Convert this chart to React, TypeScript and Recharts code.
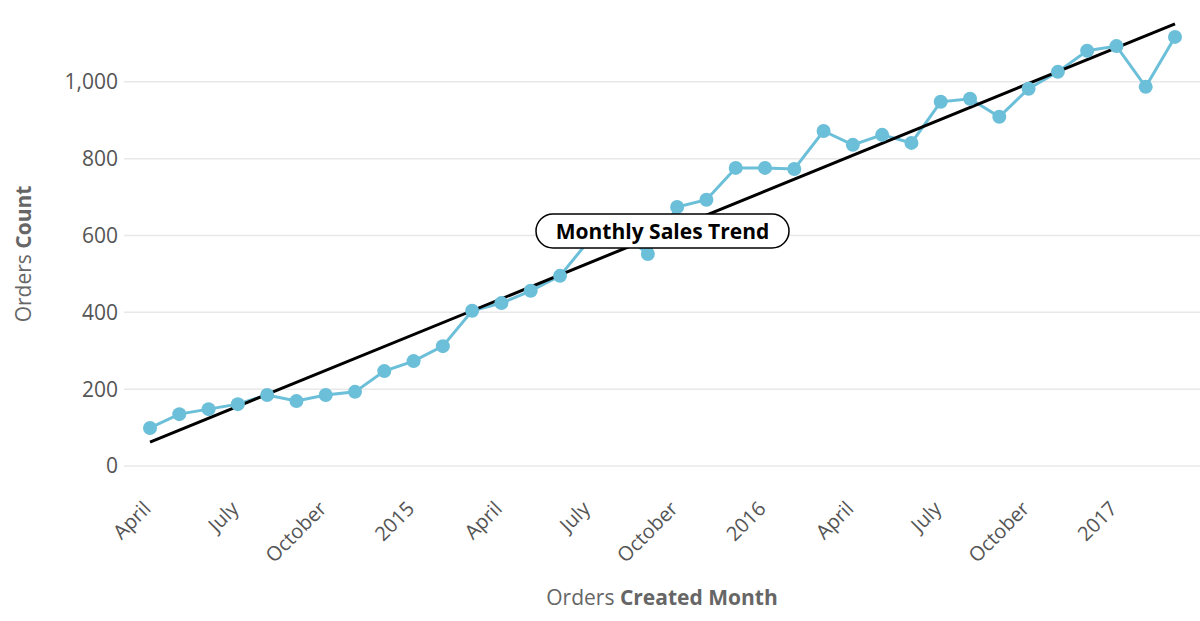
import React from "react";
import {
  LineChart,
  Line,
  XAxis,
  YAxis,
  CartesianGrid,
  ReferenceDot,
} from "recharts";

// Monthly order counts, April 2014 through March 2017
const months = [
  "2014-04", "2014-05", "2014-06", "2014-07", "2014-08", "2014-09",
  "2014-10", "2014-11", "2014-12", "2015-01", "2015-02", "2015-03",
  "2015-04", "2015-05", "2015-06", "2015-07", "2015-08", "2015-09",
  "2015-10", "2015-11", "2015-12", "2016-01", "2016-02", "2016-03",
  "2016-04", "2016-05", "2016-06", "2016-07", "2016-08", "2016-09",
  "2016-10", "2016-11", "2016-12", "2017-01", "2017-02", "2017-03",
];

const ordersCount = [
  99, 135, 148, 161, 185, 169,
  185, 193, 247, 273, 312, 404,
  424, 456, 495, 588, 612, 552,
  674, 693, 776, 776, 773, 872,
  836, 862, 841, 948, 956, 909,
  982, 1026, 1081, 1093, 987, 1117,
];

// Trend line end points (first and last month)
const trendEnds = [62, 1151];

// X-axis tick positions (month index) and their labels
const tickPositions = [0, 3, 6, 9, 12, 15, 18, 21, 24, 27, 30, 33];
const tickNames = [
  "April", "July", "October", "2015",
  "April", "July", "October", "2016",
  "April", "July", "October", "2017",
];

const yTicks = [0, 200, 400, 600, 800, 1000];

const lastIdx = months.length - 1;
const data = months.map((m, i) => ({
  idx: i,
  month: m,
  count: ordersCount[i],
  trend: i === 0 ? trendEnds[0] : i === lastIdx ? trendEnds[1] : null,
}));

const SERIES_COLOR = "#6BBFD8";
const FONT = "'Open Sans', sans-serif";

const XTick = (props: any) => {
  const { x, y, payload } = props;
  const i = tickPositions.indexOf(payload.value);
  return (
    <g transform={`translate(${x + 2},${y + 36})`}>
      <text
        x={0}
        y={0}
        textAnchor="end"
        transform="rotate(-45)"
        fontFamily={FONT}
        fontSize={20}
        fill="#555"
      >
        {i >= 0 ? tickNames[i] : ""}
      </text>
    </g>
  );
};

const YTitle = () => {
  const cx = 23;
  const cy = 254;
  return (
    <text
      x={cx}
      y={cy}
      transform={`rotate(-90, ${cx}, ${cy})`}
      textAnchor="middle"
      dominantBaseline="central"
      fontFamily={FONT}
      fontSize={21}
      fill="#666"
    >
      <tspan>Orders </tspan>
      <tspan fontWeight="bold">Count</tspan>
    </text>
  );
};

const XTitle = () => {
  return (
    <text
      x={662}
      y={605}
      textAnchor="middle"
      fontFamily={FONT}
      fontSize={21}
      fill="#666"
    >
      <tspan>Orders </tspan>
      <tspan fontWeight="bold">Created Month</tspan>
    </text>
  );
};

const TrendBadge = (props: any) => {
  const { cx, cy } = props;
  const w = 253;
  const h = 34;
  const top = cy - 2;
  return (
    <g>
      <rect
        x={cx - w / 2}
        y={top - h / 2}
        width={w}
        height={h}
        rx={17}
        ry={17}
        fill="#fff"
        stroke="#000"
        strokeWidth={1.5}
      />
      <text
        x={cx}
        y={top}
        textAnchor="middle"
        dominantBaseline="central"
        fontFamily={FONT}
        fontWeight="bold"
        fontSize={21}
        fill="#000"
      >
        Monthly Sales Trend
      </text>
    </g>
  );
};

export default function App() {
  return (
    <div style={{ position: "absolute", left: 0, top: 0, width: 1200, height: 621, background: "#fff" }}>
      <LineChart
        width={1200}
        height={621}
        data={data}
        margin={{ top: 5, right: 0, bottom: 55, left: 0 }}
      >
        <CartesianGrid
          vertical={false}
          horizontalValues={yTicks}
          stroke="#e8e8e8"
          strokeWidth={1.5}
        />
        <XAxis
          dataKey="idx"
          type="number"
          domain={[0, lastIdx]}
          ticks={tickPositions}
          interval={0}
          padding={{ left: 26, right: 25 }}
          axisLine={false}
          tickLine={false}
          height={100}
          tick={<XTick />}
          label={<XTitle />}
        />
        <YAxis
          type="number"
          domain={[0, 1200]}
          ticks={yTicks}
          width={124}
          axisLine={false}
          tickLine={false}
          tickSize={0}
          tickMargin={6}
          tick={{ fontSize: 21, fill: "#555", fontFamily: FONT }}
          tickFormatter={(v: number) => v.toLocaleString("en-US")}
          label={<YTitle />}
        />
        <Line
          type="linear"
          dataKey="count"
          stroke={SERIES_COLOR}
          strokeWidth={3}
          dot={{ r: 7, fill: SERIES_COLOR, stroke: "none" }}
          activeDot={false}
          isAnimationActive={false}
        />
        <Line
          type="linear"
          dataKey="trend"
          stroke="#000"
          strokeWidth={3}
          dot={false}
          activeDot={false}
          connectNulls
          isAnimationActive={false}
        />
        <ReferenceDot
          x={lastIdx / 2}
          y={(trendEnds[0] + trendEnds[1]) / 2}
          r={0}
          shape={<TrendBadge />}
          ifOverflow="visible"
        />
      </LineChart>
    </div>
  );
}
